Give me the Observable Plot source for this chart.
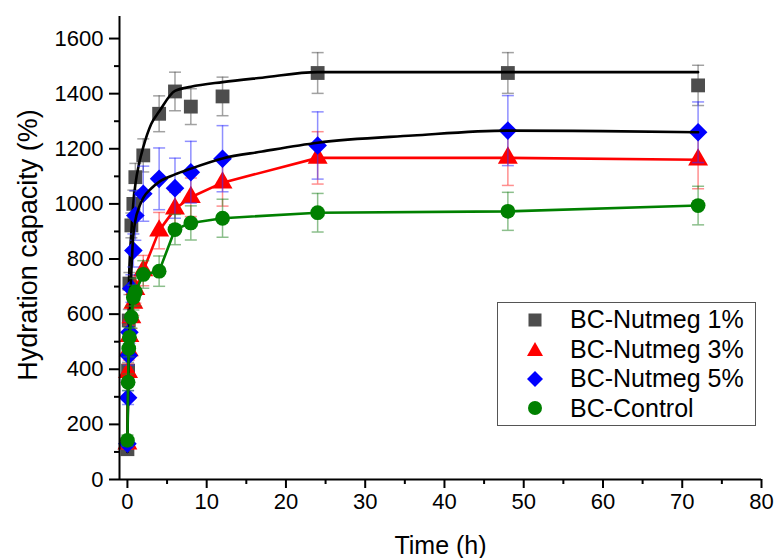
<!DOCTYPE html>
<html>
<head>
<meta charset="utf-8">
<script src="https://cdn.jsdelivr.net/npm/d3@7"></script>
<script src="https://cdn.jsdelivr.net/npm/@observablehq/plot@0.6"></script>
<style>
  html, body { margin: 0; padding: 0; background: #fff; }
  #wrap { position: relative; width: 775px; height: 558px; font-family: "Liberation Sans", Arial, sans-serif; }
  #legend { position: absolute; left: 497px; top: 302px; width: 259px; height: 124px; border: 1px solid #555; box-sizing: border-box; background: #fff; padding-top: 2px; }
  .row { display: flex; align-items: center; height: 29.5px; font-size: 25px; color: #000; }
  .row svg { width: 30px; height: 20px; margin-left: 22px; margin-right: 20px; }
</style>
</head>
<body>
<div id="wrap"></div>
<script>
// ---- data ----
const times = [0, 0.083, 0.167, 0.25, 0.5, 0.75, 1, 2, 4, 6, 8, 12, 24, 48, 72];

const nut1    = [110, 395, 577, 711, 922, 1000, 1097, 1176, 1327, 1408, 1353, 1390, 1475, 1475, 1430];
const nut1Err = [20, 30, 40, 40, 45, 50, 50, 60, 65, 70, 65, 70, 74, 74, 73];

const nut3    = [130, 389, 468, 520, 588, 640, 690, 758, 903, 982, 1024, 1077, 1167, 1167, 1160];
const nut3Err = [20, 30, 35, 40, 40, 45, 50, 55, 66, 60, 70, 85, 95, 100, 105];

const nut5    = [130, 297, 450, 534, 693, 831, 958, 1037, 1091, 1057, 1115, 1164, 1212, 1266, 1260];
const nut5Err = [15, 25, 35, 40, 50, 60, 90, 100, 112, 109, 112, 120, 122, 127, 110];

const ctrl    = [142, 353, 475, 516, 589, 660, 680, 744, 756, 907, 931, 948, 968, 973, 994];
const ctrlErr = [20, 30, 30, 35, 40, 45, 50, 50, 55, 55, 62, 69, 70, 69, 70];

// fitted curves (black)
const fit1Times = [0, 0.1, 0.2, 0.5, 0.8, 1, 1.5, 2, 3, 4, 6, 8, 12, 17, 24, 48, 72];
const fit1      = [100, 450, 720, 900, 1020, 1070, 1150, 1206, 1290, 1335, 1410, 1425, 1442, 1458, 1478, 1478, 1478];
const fit5Times = [0, 0.15, 0.4, 0.7, 1, 1.5, 2, 3, 4, 6, 8, 12, 17, 24, 36, 48, 60, 72];
const fit5      = [130, 420, 680, 870, 940, 990, 1022, 1056, 1080, 1107, 1128, 1165, 1190, 1222, 1248, 1266, 1264, 1260];

const xMajor = [0, 10, 20, 30, 40, 50, 60, 70, 80];
const xMinor = [5, 15, 25, 35, 45, 55, 65, 75];
const yMajor = [0, 200, 400, 600, 800, 1000, 1200, 1400, 1600];
const yMinor = [100, 300, 500, 700, 900, 1100, 1300, 1500];

const seriesNames = ["BC-Nutmeg 1%", "BC-Nutmeg 3%", "BC-Nutmeg 5%", "BC-Control"];
const colors = ["#4d4d4d", "#ff0000", "#0000ff", "#008000"];
const errColors = ["#555555", "#ff3333", "#3333ff", "#2e8b2e"];

// ---- build tables ----
const mk = (vals, errs) => times.map((t, i) => ({t, v: vals[i], lo: vals[i] - errs[i], hi: vals[i] + errs[i]}));
const s1 = mk(nut1, nut1Err), s3 = mk(nut3, nut3Err), s5 = mk(nut5, nut5Err), sc = mk(ctrl, ctrlErr);
const f1 = fit1Times.map((t, i) => ({t, v: fit1[i]}));
const f5 = fit5Times.map((t, i) => ({t, v: fit5[i]}));

const cap = {draw(ctx) { ctx.moveTo(-6, 0); ctx.lineTo(6, 0); }};

function errMarks(data, c) {
  return [
    Plot.ruleX(data, {x: "t", y1: "lo", y2: "hi", stroke: c, strokeOpacity: 0.55, strokeWidth: 1.5}),
    Plot.dot(data, {x: "t", y: "lo", symbol: cap, stroke: c, strokeOpacity: 0.55, strokeWidth: 1.5, fill: "none"}),
    Plot.dot(data, {x: "t", y: "hi", symbol: cap, stroke: c, strokeOpacity: 0.55, strokeWidth: 1.5, fill: "none"})
  ];
}

const chart = Plot.plot({
  width: 775,
  height: 558,
  marginLeft: 119,
  marginRight: 14,
  marginTop: 16,
  marginBottom: 79,
  x: {domain: [-1, 80]},
  y: {domain: [0, 1680]},
  style: {fontFamily: "'Liberation Sans', Arial, sans-serif", background: "white", color: "black"},
  marks: [
    // series 1%
    ...errMarks(s1, errColors[0]),
    Plot.dot(s1, {x: "t", y: "v", symbol: "square", r: 7.8, fill: colors[0]}),
    Plot.line(f1, {x: "t", y: "v", stroke: "black", strokeWidth: 2.6, curve: "monotone-x"}),
    // series 3%
    ...errMarks(s3, errColors[1]),
    Plot.line(s3, {x: "t", y: "v", stroke: colors[1], strokeWidth: 2.6}),
    Plot.dot(s3, {x: "t", y: "v", symbol: "triangle", r: 7.4, fill: colors[1]}),
    // series 5%
    ...errMarks(s5, errColors[2]),
    Plot.dot(s5, {x: "t", y: "v", symbol: "diamond2", r: 8.4, fill: colors[2]}),
    Plot.line(f5, {x: "t", y: "v", stroke: "black", strokeWidth: 2.6, curve: "monotone-x"}),
    // control
    ...errMarks(sc, errColors[3]),
    Plot.line(sc, {x: "t", y: "v", stroke: colors[3], strokeWidth: 2.6}),
    Plot.dot(sc, {x: "t", y: "v", symbol: "circle", r: 7.4, fill: colors[3]}),
    // axes
    Plot.ruleX([-1], {stroke: "black", strokeWidth: 2}),
    Plot.ruleY([0], {stroke: "black", strokeWidth: 2}),
    Plot.axisX({ticks: xMajor, tickSize: 9, tickPadding: 5, fontSize: 22, strokeWidth: 2, label: null, tickFormat: d => String(d)}),
    Plot.axisX({ticks: xMinor, tickSize: 5, text: null, strokeWidth: 2, label: null}),
    Plot.axisY({ticks: yMajor, tickSize: 10, tickPadding: 6, fontSize: 22, strokeWidth: 2, label: null, tickFormat: d => String(d)}),
    Plot.axisY({ticks: yMinor, tickSize: 5, text: null, strokeWidth: 2, label: null}),
    Plot.text(["Time (h)"], {frameAnchor: "bottom", dy: 66, fontSize: 25, textAnchor: "middle", lineAnchor: "middle"}),
    Plot.text(["Hydration capacity (%)"], {frameAnchor: "left", dx: -91, dy: -3, rotate: -90, fontSize: 27, textAnchor: "middle", lineAnchor: "middle"})
  ]
});

const wrap = document.getElementById("wrap");
wrap.appendChild(chart);

// legend
const legend = document.createElement("div");
legend.id = "legend";
const symbolSvg = [
  `<rect x="8.5" y="3.5" width="13" height="13" fill="${colors[0]}"/>`,
  `<polygon points="15,3 23,17 7,17" fill="${colors[1]}"/>`,
  `<polygon points="15,2 23,10 15,18 7,10" fill="${colors[2]}"/>`,
  `<circle cx="15" cy="10" r="7" fill="${colors[3]}"/>`
];
seriesNames.forEach((name, i) => {
  const row = document.createElement("div");
  row.className = "row";
  row.innerHTML = `<svg viewBox="0 0 30 20">${symbolSvg[i]}</svg><span>${name}</span>`;
  legend.appendChild(row);
});
wrap.appendChild(legend);
</script>
</body>
</html>
